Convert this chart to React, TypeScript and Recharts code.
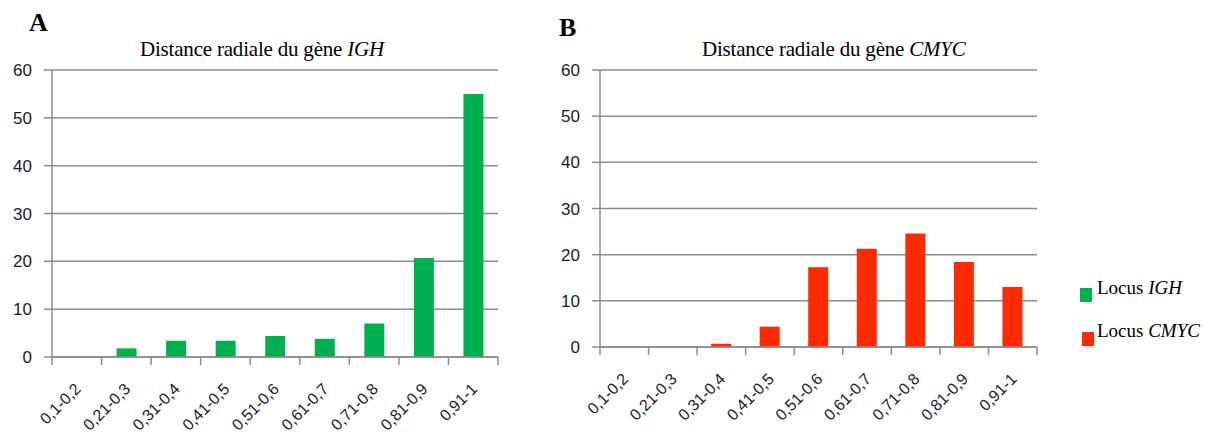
import { BarChart, Bar, XAxis, YAxis, CartesianGrid } from "recharts";

// classes de distance radiale
const categories = ["0,1-0,2", "0,21-0,3", "0,31-0,4", "0,41-0,5", "0,51-0,6", "0,61-0,7", "0,71-0,8", "0,81-0,9", "0,91-1"];
const ighValues = [0, 1.8, 3.4, 3.4, 4.4, 3.8, 7.0, 20.7, 55.0];
const cmycValues = [0, 0, 0.7, 4.4, 17.3, 21.3, 24.6, 18.4, 13.0];
const yTicks = [0, 10, 20, 30, 40, 50, 60];

const GREEN = "#00b050";
const RED = "#ff2a00";
const AXIS = "#8c8c8c";
const TEXT = "#1a1a2a";
const SERIF = "'Liberation Serif', 'DejaVu Serif', serif";
const SANS = "'Liberation Sans', Arial, sans-serif";

const ighData = categories.map((c, i) => ({ name: c, value: ighValues[i] }));
const cmycData = categories.map((c, i) => ({ name: c, value: cmycValues[i] }));

function makeTick(total: number) {
  return (props: any) => {
    const { x, y, payload, index } = props;
    const half = payload.offset ?? 0;
    const tx = x + 5;
    const ty = y + 25;
    return (
      <g>
        <line x1={x - half} x2={x - half} y1={y - 8} y2={y} stroke={AXIS} strokeWidth={1.5} />
        {index === total - 1 && (
          <line x1={x + half} x2={x + half} y1={y - 8} y2={y} stroke={AXIS} strokeWidth={1.5} />
        )}
        <text
          x={tx}
          y={ty}
          textAnchor="end"
          transform={`rotate(-45, ${tx}, ${ty})`}
          fontFamily={SANS}
          fontSize={16}
          fill={TEXT}
        >
          {payload.value}
        </text>
      </g>
    );
  };
}

function Panel({ data, color, width, margin, xHeight }: any) {
  return (
    <BarChart width={width} height={434} data={data} margin={margin} style={{ overflow: "visible" }}>
      <CartesianGrid vertical={false} stroke={AXIS} strokeWidth={1.5} />
      <XAxis
        dataKey="name"
        interval={0}
        height={xHeight}
        axisLine={{ stroke: AXIS, strokeWidth: 1.5 }}
        tickLine={false}
        tick={makeTick(categories.length)}
      />
      <YAxis
        width={52}
        domain={[0, 60]}
        ticks={yTicks}
        axisLine={{ stroke: AXIS, strokeWidth: 1.5 }}
        tickLine={{ stroke: AXIS, strokeWidth: 1.5 }}
        tickSize={8}
        tickMargin={12}
        tick={{ fontFamily: SANS, fontSize: 17, fill: TEXT }}
      />
      <Bar dataKey="value" fill={color} barSize={20} isAnimationActive={false} />
    </BarChart>
  );
}

const abs = (left: number, top: number, extra: any = {}) => ({ position: "absolute" as const, left, top, lineHeight: 1, ...extra });

export default function App() {
  return (
    <div style={{ position: "absolute", left: 0, top: 0, width: 1212, height: 434, background: "#fff", fontFamily: SERIF, color: "#000" }}>
      <div style={abs(0, 0)}>
        <Panel data={ighData} color={GREEN} width={520} margin={{ top: 70, right: 22, left: 0, bottom: 7 }} xHeight={70} />
      </div>
      <div style={abs(548, 0)}>
        <Panel data={cmycData} color={RED} width={500} margin={{ top: 70, right: 11, left: 0, bottom: 17 }} xHeight={70} />
      </div>

      <div style={abs(29, 10, { fontSize: 26, fontWeight: "bold" })}>A</div>
      <div style={abs(559, 15, { fontSize: 26, fontWeight: "bold" })}>B</div>

      <div style={abs(140, 39, { fontSize: 21, letterSpacing: -0.2 })}>
        Distance radiale du gène <i>IGH</i>
      </div>
      <div style={abs(702, 39, { fontSize: 21, letterSpacing: -0.2 })}>
        Distance radiale du gène <i>CMYC</i>
      </div>

      <div style={abs(1080, 288, { width: 12, height: 14, background: GREEN })} />
      <div style={abs(1097, 278, { fontSize: 19 })}>
        Locus <i>IGH</i>
      </div>
      <div style={abs(1082, 332, { width: 12, height: 14, background: RED })} />
      <div style={abs(1097, 321, { fontSize: 19 })}>
        Locus <i>CMYC</i>
      </div>
    </div>
  );
}
